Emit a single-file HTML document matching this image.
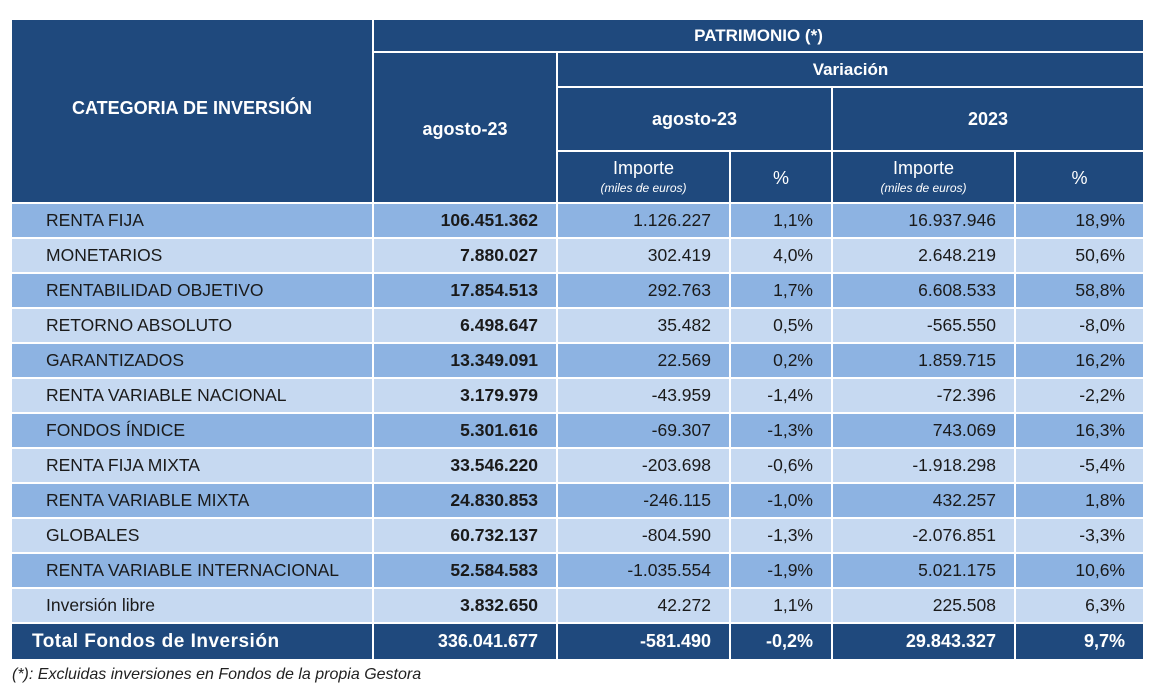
<!DOCTYPE html>
<html><head><meta charset="utf-8"><style>
body{margin:0;width:1156px;height:692px;background:#fff;font-family:"Liberation Sans",sans-serif;overflow:hidden;position:relative}
table{position:absolute;left:10px;top:18px;border-collapse:collapse;table-layout:fixed}
td{border:2px solid #fff;padding:0;font-size:17px;color:#1a1a1a;white-space:nowrap}
.h td{background:#1f497d;color:#fff;font-weight:bold;text-align:center}
.h td.sub{font-weight:normal;font-size:18px;line-height:20px;padding-top:2px}
.sub i{font-size:12px;display:block;font-weight:normal}
tr.b td{height:33px;text-align:right;padding-right:18px;font-size:17.5px}
tr.b td:first-child{text-align:left;padding-left:34px;padding-right:0}
tr.b td:nth-child(2){font-weight:bold;padding-right:18px}
tr.d td{background:#8db3e2}
tr.l td{background:#c6d9f1}
tr.t td{background:#1f497d;color:#fff;font-weight:bold;height:35px;text-align:right;padding-right:18px;font-size:18px}
tr.t td:first-child{text-align:left;padding-left:20px;font-size:19px;letter-spacing:0.5px}
.f{position:absolute;left:12px;top:666px;font-style:italic;font-size:16px;color:#222}
</style></head><body>
<table>
<colgroup><col style="width:362px"><col style="width:184px"><col style="width:173px"><col style="width:102px"><col style="width:183px"><col style="width:129px"></colgroup>
<tr class="h" style="height:33px"><td rowspan="4" style="font-size:18px;padding-bottom:6px">CATEGORIA DE INVERSIÓN</td><td colspan="5">PATRIMONIO (*)</td></tr>
<tr class="h" style="height:35px"><td rowspan="3" style="font-size:18px;padding-top:4px">agosto-23</td><td colspan="4">Variación</td></tr>
<tr class="h" style="height:64px"><td colspan="2" style="font-size:18px">agosto-23</td><td colspan="2" style="font-size:18px">2023</td></tr>
<tr class="h" style="height:52px"><td class="sub">Importe<i>(miles de euros)</i></td><td class="sub">%</td><td class="sub">Importe<i>(miles de euros)</i></td><td class="sub">%</td></tr>
<tr class="b d"><td>RENTA FIJA</td><td>106.451.362</td><td>1.126.227</td><td>1,1%</td><td>16.937.946</td><td>18,9%</td></tr>
<tr class="b l"><td>MONETARIOS</td><td>7.880.027</td><td>302.419</td><td>4,0%</td><td>2.648.219</td><td>50,6%</td></tr>
<tr class="b d"><td>RENTABILIDAD OBJETIVO</td><td>17.854.513</td><td>292.763</td><td>1,7%</td><td>6.608.533</td><td>58,8%</td></tr>
<tr class="b l"><td>RETORNO ABSOLUTO</td><td>6.498.647</td><td>35.482</td><td>0,5%</td><td>-565.550</td><td>-8,0%</td></tr>
<tr class="b d"><td>GARANTIZADOS</td><td>13.349.091</td><td>22.569</td><td>0,2%</td><td>1.859.715</td><td>16,2%</td></tr>
<tr class="b l"><td>RENTA VARIABLE NACIONAL</td><td>3.179.979</td><td>-43.959</td><td>-1,4%</td><td>-72.396</td><td>-2,2%</td></tr>
<tr class="b d"><td>FONDOS ÍNDICE</td><td>5.301.616</td><td>-69.307</td><td>-1,3%</td><td>743.069</td><td>16,3%</td></tr>
<tr class="b l"><td>RENTA FIJA MIXTA</td><td>33.546.220</td><td>-203.698</td><td>-0,6%</td><td>-1.918.298</td><td>-5,4%</td></tr>
<tr class="b d"><td>RENTA VARIABLE MIXTA</td><td>24.830.853</td><td>-246.115</td><td>-1,0%</td><td>432.257</td><td>1,8%</td></tr>
<tr class="b l"><td>GLOBALES</td><td>60.732.137</td><td>-804.590</td><td>-1,3%</td><td>-2.076.851</td><td>-3,3%</td></tr>
<tr class="b d"><td>RENTA VARIABLE INTERNACIONAL</td><td>52.584.583</td><td>-1.035.554</td><td>-1,9%</td><td>5.021.175</td><td>10,6%</td></tr>
<tr class="b l"><td>Inversión libre</td><td>3.832.650</td><td>42.272</td><td>1,1%</td><td>225.508</td><td>6,3%</td></tr>
<tr class="t"><td>Total Fondos de Inversión</td><td>336.041.677</td><td>-581.490</td><td>-0,2%</td><td>29.843.327</td><td>9,7%</td></tr>
</table>
<div class="f">(*): Excluidas inversiones en Fondos de la propia Gestora</div>
</body></html>
